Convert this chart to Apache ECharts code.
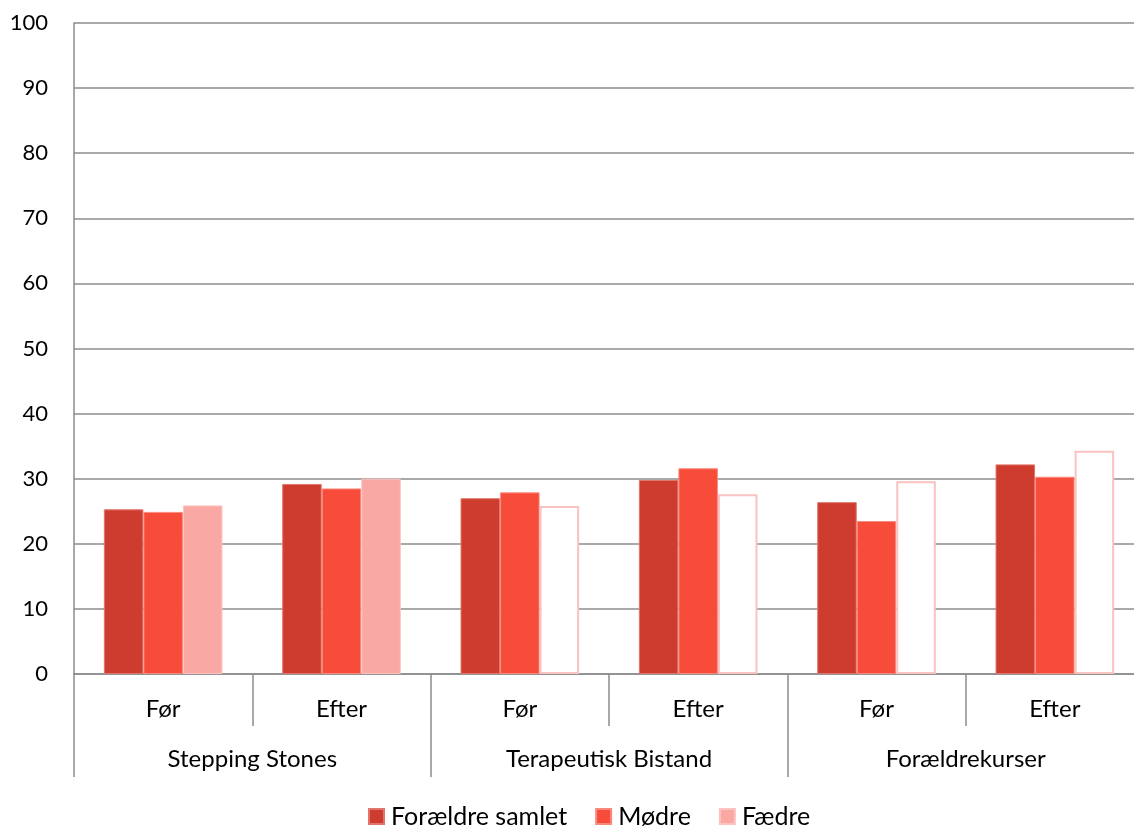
<!DOCTYPE html>
<html>
<head>
<meta charset="utf-8">
<script src="https://cdn.jsdelivr.net/npm/echarts@6/dist/echarts.min.js"></script>
<style>
  html, body { margin: 0; padding: 0; background: #fff; }
  #chart { width: 1134px; height: 826px; }
</style>
</head>
<body>
<div id="chart"></div>
<script>
// Periods within each programme, and the programmes themselves
const periods = ['Før', 'Efter', 'Før', 'Efter', 'Før', 'Efter'];
const programmes = ['Stepping Stones', 'Terapeutisk Bistand', 'Forældrekurser'];
const seriesNames = ['Forældre samlet', 'Mødre', 'Fædre'];

// Values per period (Stepping Stones Før/Efter, Terapeutisk Bistand Før/Efter, Forældrekurser Før/Efter)
const foraeldreSamlet = [25.3, 29.2, 27.0, 29.8, 26.4, 32.2];
const moedre = [24.9, 28.5, 27.9, 31.6, 23.5, 30.3];
const faedre = [25.9, 30.0, 25.8, 27.6, 29.6, 34.3];

const yTicks = { min: 0, max: 100, interval: 10 };

const font = 'Lato, "Open Sans", sans-serif';
const colors = ['#CD3C2E', '#F84C3A', '#F9A8A4'];
const gridGray = '#8C8C8C';

// Fathers' bars outside Stepping Stones are drawn as outlines only
const faedreData = faedre.map((v, i) => i < 2
  ? { value: v }
  : { value: v, itemStyle: { color: '#FFFFFF', borderColor: '#F8C3C0', borderWidth: 2 } });

const chart = echarts.init(document.getElementById('chart'), null, { renderer: 'canvas' });

chart.setOption({
  animation: false,
  backgroundColor: '#FFFFFF',
  textStyle: { fontFamily: font },
  // the plot runs slightly past the right edge of the canvas
  grid: { left: 74, width: 1070, top: 23, bottom: 152, containLabel: false, outerBoundsMode: 'none' },
  legend: {
    top: 799,
    left: 363,
    itemWidth: 15,
    itemHeight: 15,
    itemGap: 28,
    icon: 'rect',
    textStyle: { fontSize: 25, color: '#000', fontFamily: font, padding: [0, 0, 0, 2] },
    data: seriesNames
  },
  xAxis: [
    {
      type: 'category',
      data: periods,
      position: 'bottom',
      axisLine: { show: true, lineStyle: { color: gridGray, width: 1.5 } },
      axisTick: { show: true, length: 52, lineStyle: { color: gridGray, width: 1.5 } },
      axisLabel: { fontSize: 24, color: '#000', margin: 23, fontFamily: font },
      splitLine: { show: false }
    },
    {
      type: 'category',
      data: programmes,
      position: 'bottom',
      axisLine: { show: false },
      axisTick: { show: true, length: 103, lineStyle: { color: gridGray, width: 1.5 } },
      axisLabel: { fontSize: 24, color: '#000', margin: 73, fontFamily: font },
      splitLine: { show: false }
    }
  ],
  yAxis: {
    type: 'value',
    min: yTicks.min,
    max: yTicks.max,
    interval: yTicks.interval,
    axisLine: { show: true, lineStyle: { color: gridGray, width: 1.5 } },
    axisTick: { show: false },
    axisLabel: { fontSize: 22, color: '#000', margin: 26, fontFamily: font },
    splitLine: { show: true, lineStyle: { color: gridGray, width: 1.5 } }
  },
  series: [
    {
      name: seriesNames[0],
      type: 'bar',
      xAxisIndex: 0,
      data: foraeldreSamlet,
      barGap: '0%',
      barCategoryGap: '33.5%',
      itemStyle: { color: colors[0], borderColor: '#E0766B', borderWidth: 1 }
    },
    {
      name: seriesNames[1],
      type: 'bar',
      xAxisIndex: 0,
      data: moedre,
      barGap: '0%',
      barCategoryGap: '33.5%',
      itemStyle: { color: colors[1], borderColor: '#FB8A7E', borderWidth: 1 }
    },
    {
      name: seriesNames[2],
      type: 'bar',
      xAxisIndex: 0,
      data: faedreData,
      barGap: '0%',
      barCategoryGap: '33.5%',
      itemStyle: { color: colors[2], borderColor: '#FBC4C1', borderWidth: 1 }
    }
  ]
});
</script>
</body>
</html>
